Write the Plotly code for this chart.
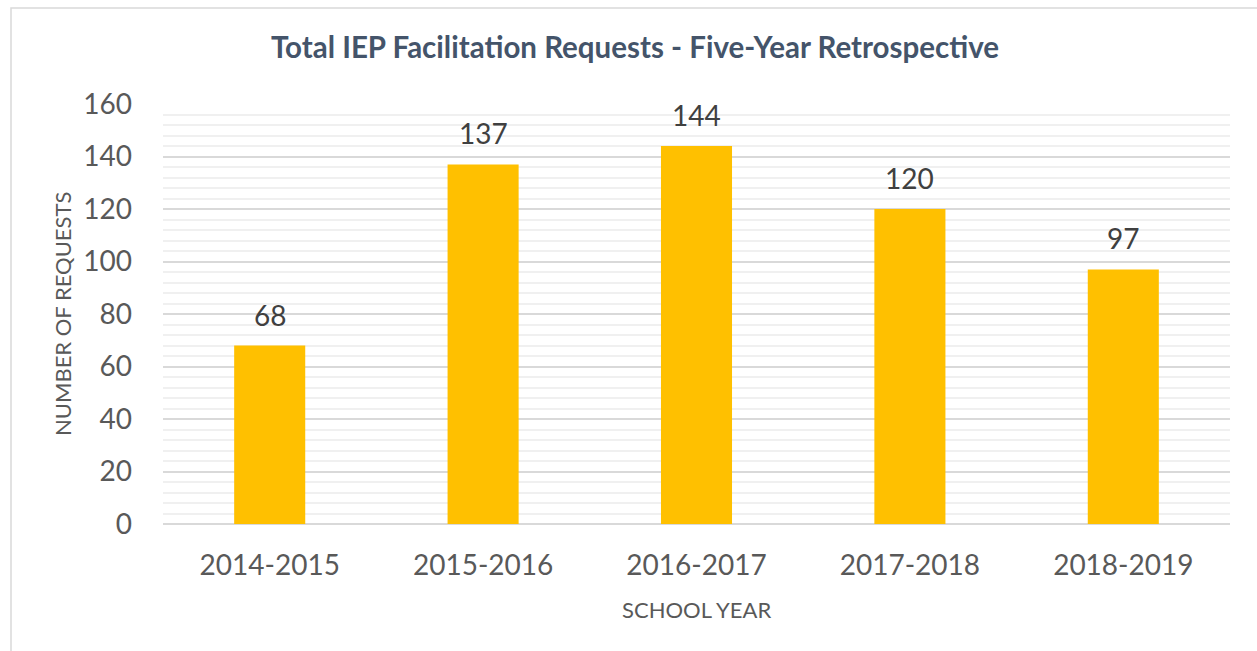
import plotly.graph_objects as go

categories = ["2014-2015", "2015-2016", "2016-2017", "2017-2018", "2018-2019"]
requests = [68, 137, 144, 120, 97]
y_ticks = [0, 20, 40, 60, 80, 100, 120, 140, 160]

title_text = "Total IEP Facilitation Requests - Five-Year Retrospective"
x_title = "SCHOOL YEAR"
y_title = "NUMBER OF REQUESTS"

W, H = 1257, 651
L, R, T, B = 163, 27, 104, 127
pw, ph = W - L - R, H - T - B

fig = go.Figure()
fig.add_trace(go.Bar(
    x=categories, y=requests,
    marker=dict(color="#FFC000", line=dict(width=0)),
    hoverinfo="x+y",
))

for c, v in zip(categories, requests):
    fig.add_annotation(
        x=c, y=v, text=str(v), showarrow=False, yanchor="bottom", yshift=12,
        font=dict(family="Lato", size=28, color="#404040"),
    )

fig.add_annotation(
    xref="paper", yref="paper", x=(696 - L) / pw, y=-(609 - (T + ph)) / ph,
    text=x_title, showarrow=False, xanchor="center", yanchor="middle",
    font=dict(family="Lato", size=22, color="#595959"),
)
fig.add_annotation(
    xref="paper", yref="paper", x=(62 - L) / pw, y=1 - (314 - T) / ph,
    text=y_title, showarrow=False, textangle=-90, xanchor="center", yanchor="middle",
    font=dict(family="Lato", size=22, color="#595959"),
)

fig.add_shape(
    type="rect", xref="paper", yref="paper",
    x0=(11 - L) / pw, x1=1.5, y0=-1.0, y1=1 + (T - 8) / ph,
    line=dict(color="#D9D9D9", width=1.5), fillcolor="rgba(0,0,0,0)", layer="below",
)

fig.update_layout(
    width=W, height=H,
    margin=dict(l=L, r=R, t=T, b=B),
    paper_bgcolor="white", plot_bgcolor="white",
    bargap=0.667,
    showlegend=False,
    title=dict(
        text="<b>" + title_text + "</b>",
        x=635 / W, xref="container", xanchor="center",
        y=1 - 48 / H, yref="container", yanchor="middle",
        font=dict(family="Lato", size=29.5, color="#44546A"),
    ),
    xaxis=dict(
        showgrid=False, showline=False, ticks="",
        tickfont=dict(family="Lato", size=28, color="#595959"),
        ticklabelstandoff=22,
    ),
    yaxis=dict(
        range=[0, 160], tickvals=y_ticks, ticktext=[str(t) for t in y_ticks],
        showgrid=True, gridcolor="#D9D9D9", gridwidth=1.5,
        zeroline=True, zerolinecolor="#D9D9D9", zerolinewidth=1.5,
        showline=False, ticks="",
        tickfont=dict(family="Lato", size=28, color="#595959"),
        ticklabelstandoff=30,
        minor=dict(dtick=4, tick0=0, showgrid=True, gridcolor="#F0F0F0", gridwidth=1.5),
    ),
)

fig.write_html(
    "out.html",
    config={"displayModeBar": False},
    post_script="document.body.style.margin='0';document.body.style.overflow='hidden';",
)
